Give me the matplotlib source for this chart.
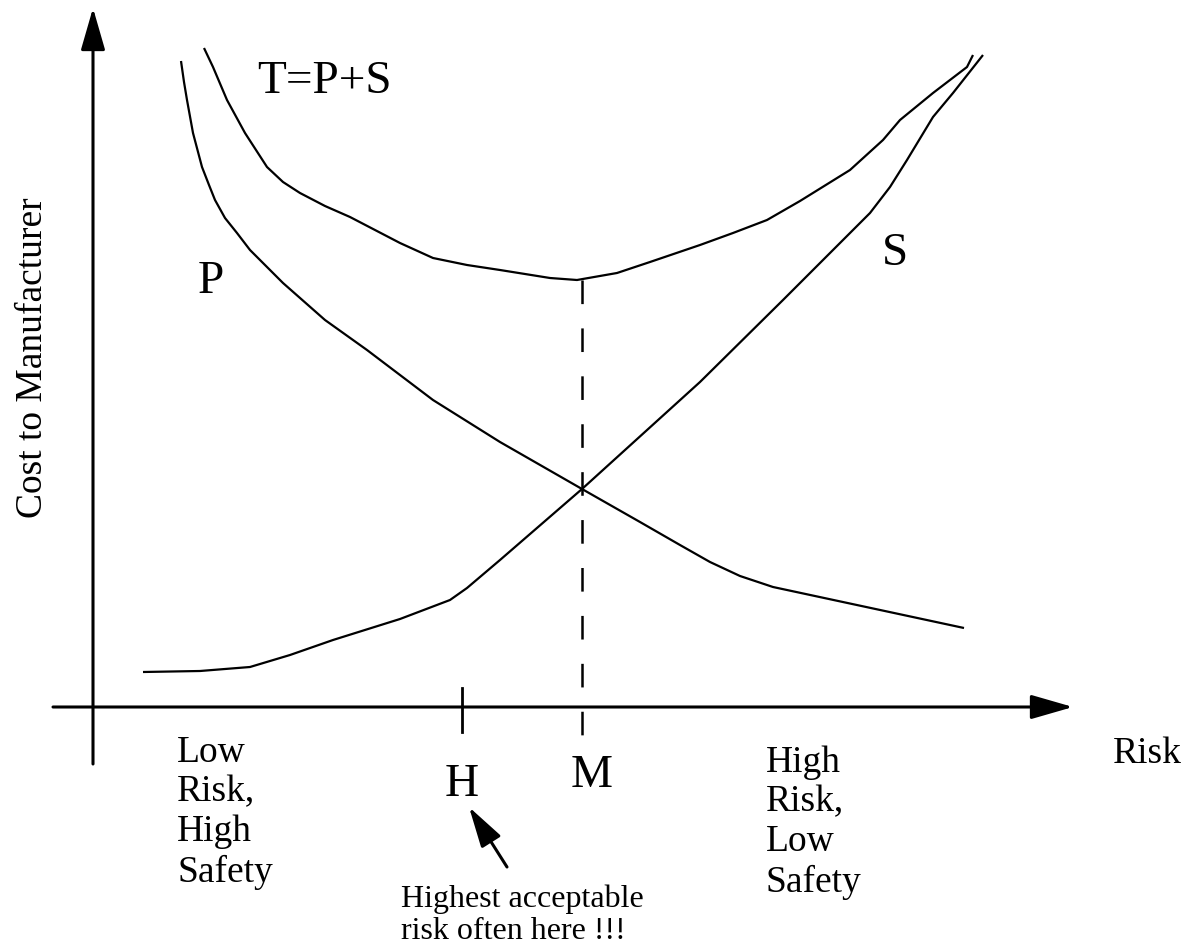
import matplotlib
matplotlib.use('Agg')
import matplotlib.pyplot as plt

plt.rcParams['font.family'] = ['Liberation Serif', 'DejaVu Serif']
plt.rcParams['lines.scale_dashes'] = False

# risk along x (0 = cost axis), cost along y (0 = risk axis)
p_risk = [88, 91, 94, 100, 109, 116, 122, 132, 144, 157, 190, 232, 274, 340, 407, 489, 547, 587, 617, 647, 680, 871]
p_cost = [646, 625, 607, 574, 540, 522, 507, 489, 474, 457, 424, 387, 357, 307, 265, 218, 185, 162, 145, 131, 120, 79]

s_risk = [50, 107, 132, 157, 197, 240, 307, 357, 374, 407, 489, 607, 690, 777, 787, 797, 814, 840, 860, 890]
s_cost = [35, 36, 38, 40, 52, 67, 88, 107, 119, 147, 218, 325, 407, 494, 507, 520, 547, 590, 614, 652]

t_risk = [111, 120, 134, 152, 174, 190, 207, 232, 257, 307, 340, 374, 407, 457, 484, 524, 557, 607, 640,
          674, 707, 757, 790, 807, 840, 874, 880]
t_cost = [659, 640, 607, 574, 540, 525, 514, 501, 490, 464, 449, 442, 437, 429, 427, 434, 445, 462, 474,
          487, 506, 537, 567, 587, 614, 640, 652]

h_risk = 369  # highest acceptable risk
m_risk = 489  # minimum of total cost
t_min_cost = 427

fig = plt.figure(figsize=(11.96, 9.48), dpi=100)
ax = fig.add_axes([0, 0, 1, 1])
ax.set_xlim(-93, 1103)
ax.set_ylim(-241, 707)
ax.axis('off')

# axes with arrow heads
axis_arrow = dict(arrowstyle='-|>,head_length=26,head_width=7.5', mutation_scale=1,
                  lw=2.2, color='black', shrinkA=0, shrinkB=0)
ax.annotate('', xy=(0, 699), xytext=(0, -57), arrowprops=axis_arrow)
ax.annotate('', xy=(980, 0), xytext=(-40, 0), arrowprops=axis_arrow)

# curves
for xs, ys in [(p_risk, p_cost), (s_risk, s_cost), (t_risk, t_cost)]:
    ax.plot(xs, ys, color='black', lw=1.6, solid_joinstyle='round', solid_capstyle='butt')

# M dashed line, H tick
ax.plot([m_risk, m_risk], [t_min_cost, -28], color='black', lw=1.8, dashes=(17, 17.5))
ax.plot([h_risk, h_risk], [19, -25], color='black', lw=2.0)

# labels
ax.text(164, 614, 'T=P+S', fontsize=34, ha='left', va='baseline')
ax.text(105, 414, 'P', fontsize=34, ha='left', va='baseline')
ax.text(789, 442, 'S', fontsize=34, ha='left', va='baseline')
ax.text(h_risk, -89, 'H', fontsize=34, ha='center', va='baseline')
ax.text(m_risk + 10, -80, 'M', fontsize=34, ha='center', va='baseline')
ax.text(84, -28, 'Low\nRisk,\nHigh\nSafety', fontsize=27, ha='left', va='top', linespacing=1.2)
ax.text(673, -38, 'High\nRisk,\nLow\nSafety', fontsize=27, ha='left', va='top', linespacing=1.2)
ax.text(1020, -56, 'Risk', fontsize=27, ha='left', va='baseline')
ax.text(-60, 349, 'Cost to Manufacturer', fontsize=27, rotation=90, ha='center', va='center')

# note with arrow pointing at H
ax.annotate('', xy=(376, -100), xytext=(414, -160),
            arrowprops=dict(arrowstyle='-|>,head_length=25,head_width=7', mutation_scale=1,
                            lw=2.2, color='black', shrinkA=0, shrinkB=0))
ax.text(308, -178, 'Highest acceptable\nrisk often here !!!', fontsize=23,
        ha='left', va='top', linespacing=1.12)

plt.savefig('out.png', dpi=100)
